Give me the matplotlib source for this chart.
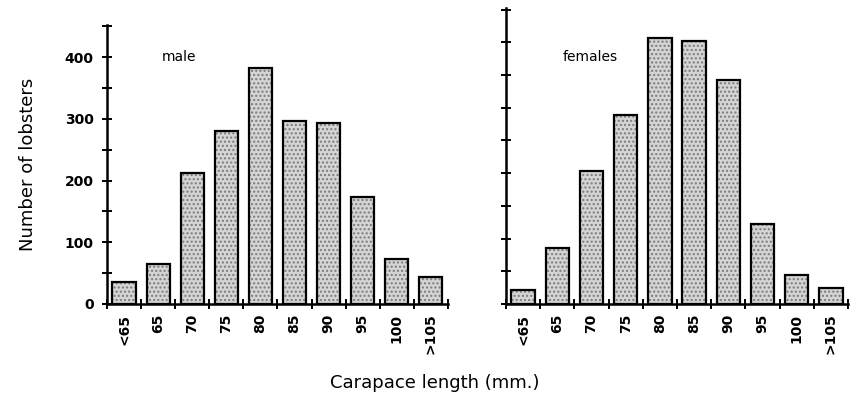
import numpy as np
import matplotlib.pyplot as plt

# Carapace length classes and counts
size_classes = ["<65", "65", "70", "75", "80", "85", "90", "95", "100", ">105"]
male_counts = [36, 64, 213, 280, 382, 297, 294, 173, 73, 44]
female_counts = [21, 85, 203, 289, 407, 402, 342, 123, 44, 25]

plt.rcParams['font.family'] = ['DejaVu Sans']

fig = plt.figure(figsize=(8.5, 4.07), dpi=100)
ax_m = fig.add_axes([0.1259, 0.2531, 0.401, 0.6855])
ax_f = fig.add_axes([0.5953, 0.2531, 0.4024, 0.7265])

x = np.arange(len(size_classes))


def draw_panel(ax, counts, label, label_pos, show_ylabels):
    # stippled fill, then a black outline on top
    ax.bar(x, counts, width=0.68, color="#d4d4d4", edgecolor="#7a7a7a",
           hatch="....", linewidth=0, zorder=2)
    ax.bar(x, counts, width=0.68, fill=False, edgecolor="black",
           linewidth=1.6, zorder=3)
    ax.set_xlim(-0.5, len(size_classes) - 0.5)
    ax.set_ylim(0, 452)
    for side in ("top", "right"):
        ax.spines[side].set_visible(False)
    ax.spines["left"].set_linewidth(1.8)
    ax.spines["bottom"].set_linewidth(1.8)

    ax.set_xticks(x)
    ax.set_xticklabels(size_classes, rotation=90, fontsize=10, fontweight="semibold")
    ax.tick_params(axis="x", which="major", length=0, pad=7)
    ax.set_xticks(np.arange(-0.5, len(size_classes)), minor=True)
    ax.tick_params(axis="x", which="minor", direction="inout", length=7, width=1.4)

    ax.set_yticks(np.arange(0, 451, 50))
    if show_ylabels:
        ax.set_yticklabels([str(v) if v % 100 == 0 and v < 450 else "" for v in range(0, 451, 50)],
                           fontsize=10, fontweight="semibold")
    else:
        ax.set_yticklabels([])
    ax.tick_params(axis="y", direction="inout", length=7, width=1.4, pad=6)

    ax.text(label_pos[0], label_pos[1], label, transform=ax.transAxes,
            fontsize=10, ha="center", va="center")


draw_panel(ax_m, male_counts, "male", (0.21, 0.885), True)
draw_panel(ax_f, female_counts, "females", (0.246, 0.835), False)

ax_m.set_ylabel("Number of lobsters", fontsize=13, labelpad=20)
fig.text(0.512, 0.06, "Carapace length (mm.)", fontsize=13, ha="center", va="center")

fig.savefig("out.png", dpi=100)
